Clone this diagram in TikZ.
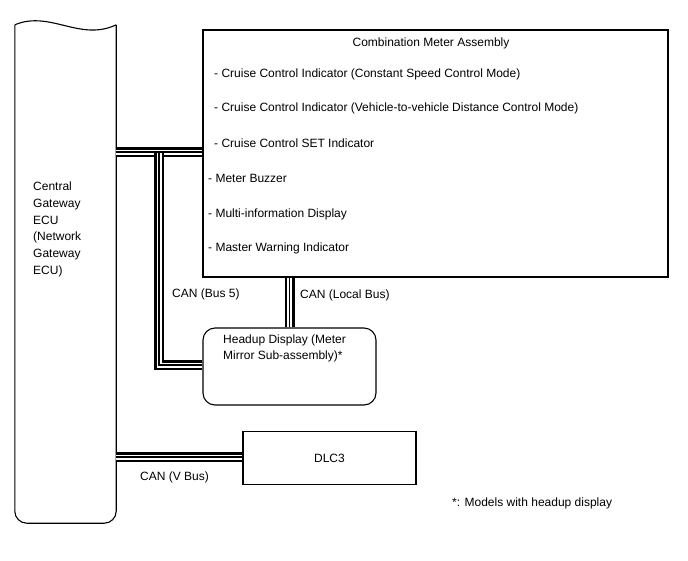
\documentclass[tikz,border=0pt]{standalone}
\usepackage{fontspec}
\setmainfont{Liberation Sans}
\begin{document}
\begin{tikzpicture}[x=1pt,y=-1pt,
  font=\fontsize{12}{16.8}\selectfont,
  box/.style={draw, line width=1.1pt, inner sep=0pt},
  outline/.style={line width=1.1pt},
  bus/.style={draw=black, line width=10pt,
    postaction={draw=white, line width=5pt},
    postaction={draw=black, line width=1.5pt}},
  lbl/.style={anchor=base west, inner sep=0pt},
  multi/.style={anchor=north west, inner sep=0pt, align=left}]
\useasboundingbox[fill=white] (0,0) rectangle (688,560);

% boxes
\node[inner sep=0pt, minimum width=101pt, minimum height=498pt] (gw) at (65.5,274) {};
\node[box, minimum width=465pt, minimum height=247pt] (meter) at (435.5,153.5) {};
\node[box, rounded corners=12pt, minimum width=173pt, minimum height=77pt] (hud) at (289.5,366.5) {};
\node[box, minimum width=173pt, minimum height=53pt] (dlc) at (329.5,458) {DLC3};

% gateway outline (wavy top, rounded bottom)
\draw[outline] (gw.north west) .. controls (50,10) and (80,42) .. (gw.north east);
\draw[outline, rounded corners=12pt] (gw.north east) -- (gw.south east) -- (gw.south west) -- (gw.north west);

% texts
\node[multi] (gwtext) at (33,181.6) {Central\\Gateway\\ECU\\(Network\\Gateway\\ECU)};
\node[anchor=base, inner sep=0pt] (title) at (431,46.3) {Combination Meter Assembly};
\node[lbl] (i1) at (214,77.3) {- Cruise Control Indicator (Constant Speed Control Mode)};
\node[lbl] (i2) at (214,111.3) {- Cruise Control Indicator (Vehicle-to-vehicle Distance Control Mode)};
\node[lbl] (i3) at (214,147.3) {- Cruise Control SET Indicator};
\node[lbl] (i4) at (208,182.3) {- Meter Buzzer};
\node[lbl] (i5) at (208,217.3) {- Multi-information Display};
\node[lbl] (i6) at (208,251.3) {- Master Warning Indicator};
\node[multi, font=\fontsize{12}{16}\selectfont] (hudtext) at (223,334.5) {Headup Display (Meter\\Mirror Sub-assembly)*};

% buses
\coordinate (j1) at (159,152);
\coordinate (j2) at (159,365);
\coordinate (lb) at (289.5,300);
\coordinate (vb) at (180,457);
\draw[bus] (gw.east |- j1) -- (meter.west |- j1);
\draw[bus] ([yshift=-0.75pt]j1) -- (j2) -- (hud.west |- j2);
\draw[bus] (meter.south -| lb) -- (hud.north -| lb);
\draw[bus] (gw.east |- vb) -- (dlc.west |- vb);

% bus labels
\node[lbl] (l1) at (172,297.3) {CAN (Bus 5)};
\node[lbl] (l2) at (300,298.3) {CAN (Local Bus)};
\node[lbl] (l3) at (140,480.3) {CAN (V Bus)};
\node[lbl] (note) at (452,506.3) {*: Models with headup display};
\end{tikzpicture}
\end{document}
